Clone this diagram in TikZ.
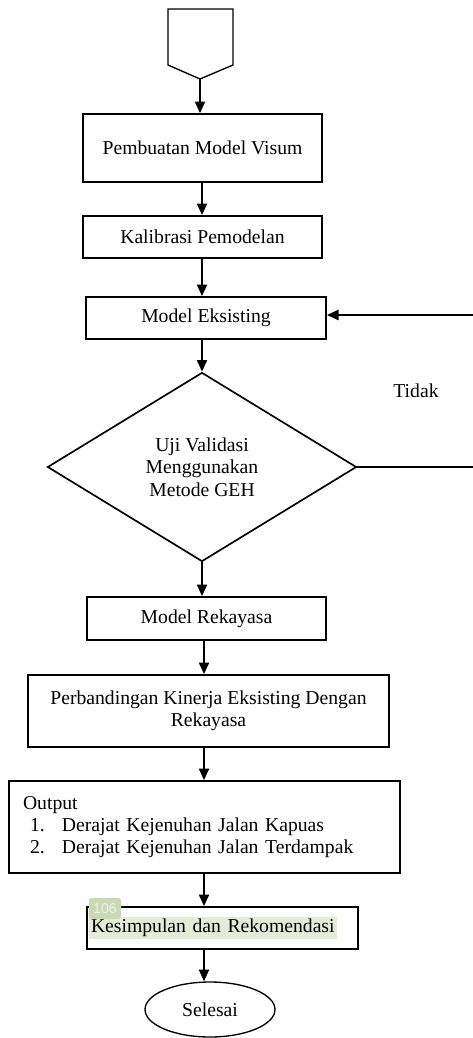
\documentclass[tikz,border=0pt]{standalone}
\usepackage{fontspec}
\setmainfont{Liberation Serif}
\newfontfamily\tagfont{Liberation Sans}
\usetikzlibrary{arrows.meta,shapes.geometric}
\definecolor{hl}{HTML}{E4ECD9}
\definecolor{tagfill}{HTML}{C9D9B5}
\definecolor{tagtext}{HTML}{EEF3E8}
\begin{document}
\begin{tikzpicture}[x=0.6pt,y=-0.6pt,
  font=\fontsize{11.8}{13.4}\selectfont,
  box/.style={draw,line width=1pt,inner sep=0pt,align=center},
  arr/.style={line width=1.3pt,-{Triangle[length=7pt,width=6pt]}},
  plain/.style={line width=1.3pt}]
\useasboundingbox (0,0) rectangle (473,1038);
\coordinate (spine) at (202,0);
\coordinate (spine2) at (204,0);
% off-page connector
\draw[line width=0.8pt] (168,9) -- (233,9) -- (233,65) -- (200,79) -- (168,65) -- cycle;
\coordinate (start) at (200,79);
% boxes
\node[box,minimum width=239*0.6pt,minimum height=68*0.6pt] (b1) at (202.5,148) {Pembuatan Model Visum};
\node[box,minimum width=239*0.6pt,minimum height=42*0.6pt] (b2) at (202.5,237) {Kalibrasi Pemodelan};
\node[box,minimum width=240*0.6pt,minimum height=42*0.6pt] (b3) at (206,318) {Model Eksisting};
\node[draw,line width=1pt,diamond,aspect=1.63,inner sep=0pt,align=center,
      minimum width=309*0.6pt,minimum height=189*0.6pt] (dia) at (202,467)
      {Uji Validasi\\Menggunakan\\Metode GEH};
\node[box,minimum width=239*0.6pt,minimum height=43*0.6pt] (b4) at (206.5,618.5) {Model Rekayasa};
\node[box,minimum width=361*0.6pt,minimum height=72*0.6pt] (b5) at (208.5,711)
      {Perbandingan Kinerja Eksisting Dengan\\Rekayasa};
\node[box,minimum width=391*0.6pt,minimum height=92*0.6pt,text width=363*0.6pt,align=left] (b6) at (204.5,827)
      {Output\\
       \hspace*{4.2pt}\makebox[19.2pt][l]{1.}Derajat Kejenuhan Jalan Kapuas\\
       \hspace*{4.2pt}\makebox[19.2pt][l]{2.}Derajat Kejenuhan Jalan Terdampak};
\node[box,minimum width=271*0.6pt,minimum height=42*0.6pt,text width=267*0.6pt,align=left] (b7) at (222.5,928)
      {{\fboxsep=1.2pt\colorbox{hl}{Kesimpulan dan Rekomendasi}}};
\node[draw,line width=0.8pt,ellipse,minimum width=130*0.6pt,minimum height=55*0.6pt,inner sep=0pt] (end) at (210,1009.5) {Selesai};
% page tag
\node[fill=tagfill,rounded corners=1.5pt,inner sep=1.2pt,minimum width=32*0.6pt,minimum height=21*0.6pt,
      text=tagtext,font=\tagfont\fontsize{8.5}{9}\selectfont] (tag) at (105,908.5) {106};
% label
\node (tidak) at (416,391) {Tidak};
% connectors
\draw[arr] (start) -- (start |- b1.north);
\draw[arr] (b1.south -| spine) -- (b2.north -| spine);
\draw[arr] (b2.south -| spine) -- (b3.north -| spine);
\draw[arr] (b3.south -| dia.north) -- (dia.north);
\draw[arr] (dia.south) -- (b4.north -| dia.south);
\draw[arr] (b4.south -| spine2) -- (b5.north -| spine2);
\draw[arr] (b5.south -| spine2) -- (b6.north -| spine2);
\draw[arr] (b6.south -| spine2) -- (b7.north -| spine2);
\draw[arr] (b7.south -| spine2) -- (end.north -| spine2);
% feedback
\coordinate (r1) at (473,315);
\coordinate (r2) at (473,467);
\draw[plain] (dia.east) -- (r2);
\draw[arr] (r1) -- (r1 -| b3.east);
\end{tikzpicture}
\end{document}
